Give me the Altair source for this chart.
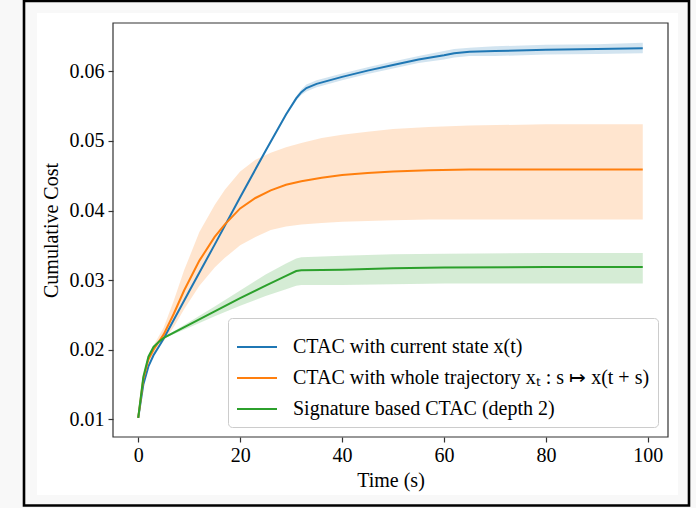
import altair as alt
import pandas as pd

# ---- data ----
series_names = [
    "CTAC with current state x(t)",
    "CTAC with whole trajectory xₜ : s ↦ x(t + s)",
    "Signature based CTAC (depth 2)",
]
colors = ["#1f77b4", "#ff7f0e", "#2ca02c"]

t_blue = [0, 1, 2, 3, 4, 5, 10, 15, 20, 25, 29, 31, 32, 33, 35, 40, 45, 50, 55, 60, 62, 65, 70, 80, 90, 99]
blue = [0.0102, 0.0150, 0.0176, 0.0192, 0.0204, 0.0216, 0.0284, 0.0351, 0.0419, 0.0486, 0.0538, 0.0561,
        0.0570, 0.0576, 0.0582, 0.0592, 0.0601, 0.0609, 0.0617, 0.0623, 0.0626, 0.0628, 0.0629, 0.0631,
        0.0632, 0.0633]
blue_lo = [0.0102, 0.0149, 0.0175, 0.0191, 0.0203, 0.0215, 0.0283, 0.0350, 0.0418, 0.0484, 0.0536, 0.0558,
           0.0566, 0.0571, 0.0577, 0.0587, 0.0596, 0.0604, 0.0612, 0.0617, 0.0620, 0.0622, 0.0622, 0.0624,
           0.0625, 0.0626]
blue_hi = [0.0102, 0.0151, 0.0177, 0.0193, 0.0205, 0.0217, 0.0285, 0.0352, 0.0420, 0.0488, 0.0540, 0.0564,
           0.0574, 0.0581, 0.0587, 0.0597, 0.0606, 0.0614, 0.0622, 0.0629, 0.0632, 0.0634, 0.0636, 0.0638,
           0.0639, 0.0641]

t_orange = [0, 1, 2, 3, 4, 5, 7, 9, 12, 15, 17, 20, 23, 26, 29, 32, 36, 40, 45, 50, 57, 65, 80, 99]
orange = [0.0102, 0.0158, 0.0186, 0.0200, 0.0211, 0.0222, 0.0252, 0.0285, 0.0328, 0.0362, 0.0380, 0.0403,
          0.0418, 0.0429, 0.0437, 0.0442, 0.0447, 0.0451, 0.0454, 0.0456, 0.0458, 0.0459, 0.0459, 0.0459]
orange_lo = [0.0102, 0.0156, 0.0182, 0.0194, 0.0203, 0.0212, 0.0233, 0.0258, 0.0292, 0.0318, 0.0332, 0.0350,
             0.0362, 0.0372, 0.0377, 0.0380, 0.0382, 0.0384, 0.0385, 0.0386, 0.0387, 0.0387, 0.0387, 0.0387]
orange_hi = [0.0102, 0.0160, 0.0190, 0.0206, 0.0219, 0.0232, 0.0271, 0.0314, 0.0369, 0.0408, 0.0430, 0.0456,
             0.0473, 0.0483, 0.0491, 0.0497, 0.0504, 0.0509, 0.0513, 0.0517, 0.0520, 0.0522, 0.0524, 0.0524]

t_green = [0, 1, 2, 3, 4, 5, 10, 15, 20, 25, 29, 31, 32, 40, 50, 60, 80, 99]
green = [0.0102, 0.0161, 0.0190, 0.0204, 0.0211, 0.0217, 0.0236, 0.0255, 0.0274, 0.0292, 0.0306, 0.0313,
         0.0314, 0.0315, 0.0317, 0.0318, 0.0319, 0.0319]
green_lo = [0.0102, 0.0160, 0.0189, 0.0203, 0.0210, 0.0216, 0.0232, 0.0248, 0.0263, 0.0277, 0.0287, 0.0292,
            0.0293, 0.0293, 0.0294, 0.0295, 0.0295, 0.0295]
green_hi = [0.0102, 0.0162, 0.0191, 0.0205, 0.0212, 0.0218, 0.0240, 0.0262, 0.0285, 0.0308, 0.0324, 0.0331,
            0.0333, 0.0335, 0.0337, 0.0338, 0.0339, 0.0339]

x_ticks = [0, 20, 40, 60, 80, 100]
y_ticks = [0.01, 0.02, 0.03, 0.04, 0.05, 0.06]

# ---- build table ----
rows = []
for name, ts, m, lo, hi in [
    (series_names[0], t_blue, blue, blue_lo, blue_hi),
    (series_names[1], t_orange, orange, orange_lo, orange_hi),
    (series_names[2], t_green, green, green_lo, green_hi),
]:
    for a, b, c, d in zip(ts, m, lo, hi):
        rows.append({"series": name, "band": name, "t": a, "mean": b, "lo": c, "hi": d})
df = pd.DataFrame(rows)

FONT = "Liberation Serif"
W, H = 555, 414

xscale = alt.Scale(domain=[-4.95, 103.95], nice=False, zero=False)
yscale = alt.Scale(domain=[0.00746, 0.06694], nice=False, zero=False)

x_axis = alt.Axis(values=x_ticks, format="d", title="Time (s)", grid=False, zindex=2)
y_axis = alt.Axis(values=y_ticks, format=".2f", title="Cumulative Cost", grid=False, zindex=2)

one = pd.DataFrame({"k": [0]})
# figure background panel, outer frame and plot-area border (decoration)
panel = alt.Chart(one).mark_rect(fill="white").encode(
    x=alt.value(-76), x2=alt.value(565), y=alt.value(-10), y2=alt.value(472))
frame = alt.Chart(one).mark_rect(fill=None, stroke="black", strokeWidth=2.6).encode(
    x=alt.value(-89), x2=alt.value(576), y=alt.value(-22), y2=alt.value(482.5))
border = alt.Chart(one).mark_rect(fill=None, stroke="#333333", strokeWidth=1.2).encode(
    x=alt.value(0), x2=alt.value(W), y=alt.value(0), y2=alt.value(H))

# band colours follow the (alphabetical = legend) order of the series names
bands = alt.Chart(df).mark_area(opacity=0.2).encode(
    x=alt.X("t:Q", scale=xscale, axis=x_axis),
    y=alt.Y("lo:Q", scale=yscale, axis=y_axis),
    y2="hi:Q",
    fill=alt.Fill("band:N", scale=alt.Scale(range=colors), legend=None),
    detail="band:N",
)

lines = alt.Chart(df).mark_line(strokeWidth=2).encode(
    x=alt.X("t:Q", scale=xscale, axis=x_axis),
    y=alt.Y("mean:Q", scale=yscale, axis=y_axis),
    stroke=alt.Stroke(
        "series:N", scale=alt.Scale(domain=series_names, range=colors),
        legend=alt.Legend(
            title=None, orient="bottom-right", offset=10, zindex=3,
            symbolType="stroke", symbolSize=1600, symbolStrokeWidth=2,
            labelFont=FONT, labelFontSize=20, labelColor="black", labelLimit=600,
            labelOffset=15, rowPadding=-8, padding=8,
            fillColor="white", strokeColor="#cccccc", cornerRadius=4,
        ),
    ),
)

chart = alt.layer(panel, frame, bands, lines, border).properties(
    width=W, height=H,
    padding={"left": 113, "top": 23, "right": 28, "bottom": 71},
    autosize=alt.AutoSizeParams(type="none"),
    background="#f8f8f8",
).configure_view(
    stroke=None
).configure_axis(
    labelFont=FONT, labelFontSize=20, labelColor="black",
    titleFont=FONT, titleFontSize=20, titleColor="black", titleFontWeight="normal",
    domain=False, tickColor="#333333", tickSize=5, tickWidth=1.2,
).configure_axisX(
    labelPadding=3, titlePadding=5,
).configure_axisY(
    labelPadding=4, titlePadding=8,
)

chart.save("out.html", embed_options={"renderer": "svg", "actions": False})
